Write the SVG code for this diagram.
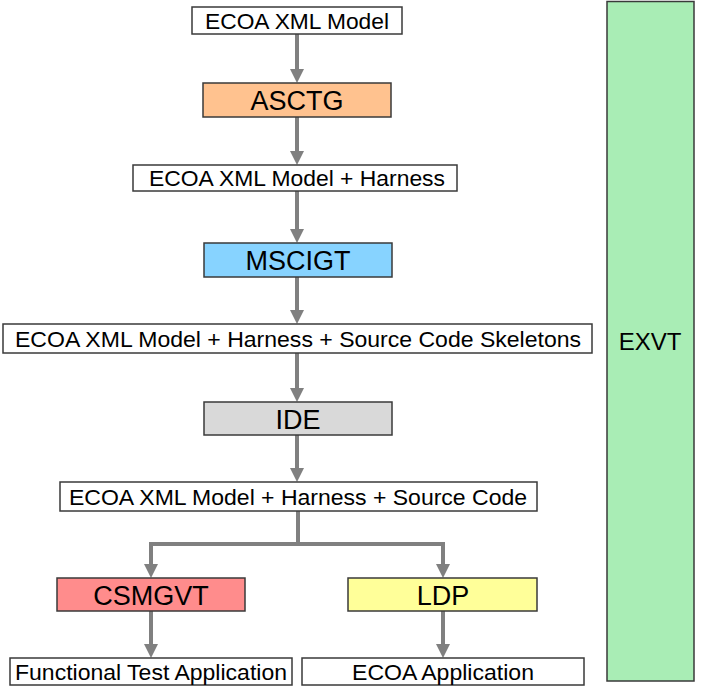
<svg xmlns="http://www.w3.org/2000/svg" width="711" height="689" viewBox="0 0 711 689">
<style>
.box{stroke:#3a3a3a;stroke-width:1.5}
.lbl{font-family:"Liberation Sans",Arial,sans-serif;font-size:22.5px;fill:#000;text-anchor:middle}
.tool{font-family:"Liberation Sans",Arial,sans-serif;font-size:27px;fill:#000;text-anchor:middle}
.con{fill:none;stroke:#808080;stroke-width:4;stroke-linejoin:miter}
</style>
<defs>
<marker id="ah" markerUnits="userSpaceOnUse" markerWidth="15" markerHeight="15" refX="2" refY="7" orient="auto" viewBox="0 0 15 15">
<path d="M0,0 L14,7 L0,14 z" fill="#808080"/>
</marker>
</defs>
<rect width="711" height="689" fill="#fff"/>
<g id="exvt"><rect class="box" x="607" y="1.5" width="87" height="679.5" fill="#A9EDB5"/><text x="650" y="350" font-family="Liberation Sans,Arial,sans-serif" font-size="24" text-anchor="middle">EXVT</text></g>
<g id="connectors">
<path class="con" d="M297,34 V71" marker-end="url(#ah)"/>
<path class="con" d="M297,117 V153" marker-end="url(#ah)"/>
<path class="con" d="M297,191 V231" marker-end="url(#ah)"/>
<path class="con" d="M297,277 V312" marker-end="url(#ah)"/>
<path class="con" d="M297,353 V390" marker-end="url(#ah)"/>
<path class="con" d="M297,435 V470" marker-end="url(#ah)"/>
<path class="con" d="M298,511 V544 H151 V566" marker-end="url(#ah)"/>
<path class="con" d="M298,544 H443 V566" marker-end="url(#ah)"/>
<path class="con" d="M151,611 V646" marker-end="url(#ah)"/>
<path class="con" d="M443,611 V646" marker-end="url(#ah)"/>
</g>
<g id="model"><rect class="box" x="192" y="7" width="210" height="27" fill="#fff"/><text class="lbl" x="297" y="28.5" textLength="184" lengthAdjust="spacingAndGlyphs">ECOA XML Model</text></g>
<g id="asctg"><rect class="box" x="203" y="83" width="188" height="34" fill="#FFC28F"/><text class="tool" x="297" y="110">ASCTG</text></g>
<g id="model_harness"><rect class="box" x="133" y="165" width="324" height="26" fill="#fff"/><text class="lbl" x="297" y="186" textLength="296" lengthAdjust="spacingAndGlyphs">ECOA XML Model + Harness</text></g>
<g id="mscigt"><rect class="box" x="204" y="243" width="188" height="34" fill="#87D3FF"/><text class="tool" x="298" y="270">MSCIGT</text></g>
<g id="skeletons"><rect class="box" x="3" y="324" width="589" height="29" fill="#fff"/><text class="lbl" x="298" y="346.5" textLength="566" lengthAdjust="spacingAndGlyphs">ECOA XML Model + Harness + Source Code Skeletons</text></g>
<g id="ide"><rect class="box" x="204" y="402" width="188" height="33" fill="#D9D9D9"/><text class="tool" x="298" y="428.5">IDE</text></g>
<g id="source"><rect class="box" x="60" y="482" width="477" height="29" fill="#fff"/><text class="lbl" x="298" y="504.5" textLength="458" lengthAdjust="spacingAndGlyphs">ECOA XML Model + Harness + Source Code</text></g>
<g id="csmgvt"><rect class="box" x="57" y="578" width="188" height="33" fill="#FF8C8C"/><text class="tool" x="151" y="604.5">CSMGVT</text></g>
<g id="ldp"><rect class="box" x="348" y="578" width="189" height="33" fill="#FFFF99"/><text class="tool" x="443" y="604.5">LDP</text></g>
<g id="fta"><rect class="box" x="10" y="658" width="282" height="27" fill="#fff"/><text class="lbl" x="151" y="679.5" textLength="272" lengthAdjust="spacingAndGlyphs">Functional Test Application</text></g>
<g id="ecoa_app"><rect class="box" x="302" y="658" width="282" height="27" fill="#fff"/><text class="lbl" x="443" y="679.5" textLength="182" lengthAdjust="spacingAndGlyphs">ECOA Application</text></g>
</svg>
